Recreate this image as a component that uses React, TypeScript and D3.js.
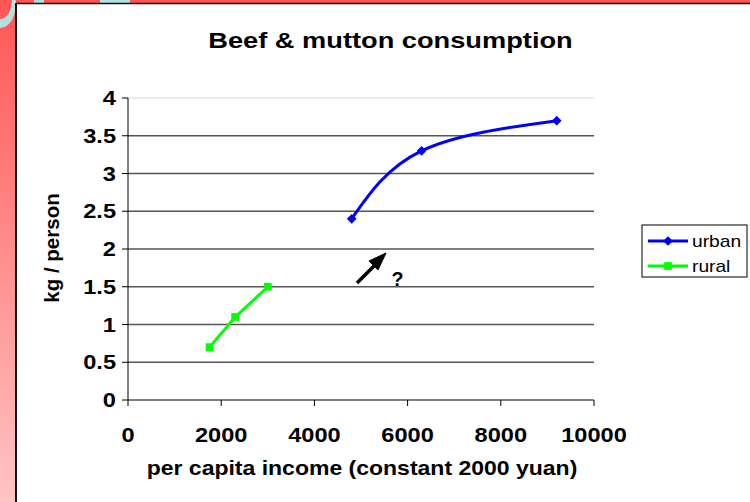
import React from "react";
import * as d3 from "d3";

// values
const urbanIncome = [4800, 6300, 9200];
const urbanKg = [2.4, 3.3, 3.7];
const ruralIncome = [1750, 2300, 3000];
const ruralKg = [0.7, 1.1, 1.5];
const xTicks = [0, 2000, 4000, 6000, 8000, 10000];
const yTicks = [0, 0.5, 1, 1.5, 2, 2.5, 3, 3.5, 4];
const seriesNames = ["urban", "rural"];

const W = 750;
const H = 502;
const FONT = "'Liberation Sans', Arial, sans-serif";

// the slide text is drawn a bit wide, so stretch it horizontally
function Label(props: { x: number; y: number; anchor?: string; size: number; sx?: number; bold?: boolean; children: React.ReactNode }) {
  return (
    <text transform={`translate(${props.x},${props.y}) scale(${props.sx ?? 1.18},1)`} textAnchor={props.anchor ?? "start"}
      fontFamily={FONT} fontWeight={props.bold ? "bold" : "normal"} fontSize={props.size}>
      {props.children}
    </text>
  );
}

export default function App() {
  const x = d3.scaleLinear().domain([0, 10000]).range([128, 594]);
  const y = d3.scaleLinear().domain([0, 4]).range([400, 98]);

  const urban = urbanIncome.map((v, i) => [v, urbanKg[i]] as [number, number]);
  const rural = ruralIncome.map((v, i) => [v, ruralKg[i]] as [number, number]);

  const smooth = d3.line<[number, number]>()
    .x(d => x(d[0]))
    .y(d => y(d[1]))
    .curve(d3.curveNatural);
  const straight = d3.line<[number, number]>()
    .x(d => x(d[0]))
    .y(d => y(d[1]));

  const diamond = d3.symbol().type(d3.symbolDiamond2).size(60)();
  const square = d3.symbol().type(d3.symbolSquare).size(60)();

  const legendColors = ["#0000ff", "#00ff00"];
  const legendMarks = [diamond, square];

  return (
    <div style={{ position: "fixed", left: 0, top: 0 }}>
      <svg width={W} height={H} style={{ display: "block" }}>
        <defs>
          <linearGradient id="strip" x1="0" y1="0" x2="0" y2="1">
            <stop offset="0%" stopColor="#ff5555" />
            <stop offset="100%" stopColor="#ffc4c4" />
          </linearGradient>
        </defs>
        {/* slide background */}
        <rect x={0} y={0} width={W} height={H} fill="white" />
        <rect x={0} y={0} width={17} height={H} fill="url(#strip)" />
        <rect x={0} y={0} width={W} height={3} fill="#ff5555" />
        <rect x={34} y={0} width={10} height={3} fill="#b4e0e0" />
        <rect x={100} y={0} width={30} height={3} fill="#b4e0e0" />
        <path d="M0,19 Q11,18 12,0 L16,0 Q16,26 0,28 Z" fill="#b4e0e0" />
        <line x1={16} y1={3} x2={16} y2={H} stroke="#111" strokeWidth={2} />
        <line x1={16} y1={3.5} x2={W} y2={3.5} stroke="#111" strokeWidth={1.5} />

        {/* title */}
        <Label x={390.5} y={47.5} anchor="middle" size={22.5} sx={1.21} bold>Beef &amp; mutton consumption</Label>

        {/* gridlines */}
        {yTicks.filter(t => t > 0).map(t => (
          <line key={t} x1={x(0)} x2={x(10000)} y1={y(t)} y2={y(t)}
            stroke={t === 4 ? "#d8d8d8" : "#555"} strokeWidth={t === 4 ? 1 : 1.3} />
        ))}

        {/* axes */}
        <line x1={x(0)} x2={x(0)} y1={y(4)} y2={y(0)} stroke="#000" />
        {yTicks.map(t => (
          <g key={t}>
            <line x1={x(0) - 6} x2={x(0)} y1={y(t)} y2={y(t)} stroke="#000" />
            <Label x={x(0) - 12} y={y(t) + 7} anchor="end" size={20} bold>{t}</Label>
          </g>
        ))}
        <line x1={x(0)} x2={x(10000)} y1={y(0)} y2={y(0)} stroke="#000" />
        {xTicks.map(t => (
          <g key={t}>
            <line x1={x(t)} x2={x(t)} y1={y(0)} y2={y(0) + 6} stroke="#000" />
            <Label x={x(t)} y={y(0) + 41.5} anchor="middle" size={20} bold>{t}</Label>
          </g>
        ))}
        <Label x={362} y={474.5} anchor="middle" size={19.5} bold>per capita income (constant 2000 yuan)</Label>
        <text transform="translate(59,248) rotate(-90)" textAnchor="middle" fontFamily={FONT}
          fontWeight="bold" fontSize={20.5}>kg / person</text>

        {/* series */}
        <path d={smooth(urban) ?? ""} fill="none" stroke="#0000ff" strokeWidth={3} />
        {urban.map((d, i) => (
          <path key={i} d={diamond ?? ""} transform={`translate(${x(d[0])},${y(d[1])})`} fill="#0000ff" />
        ))}
        <path d={straight(rural) ?? ""} fill="none" stroke="#00ff00" strokeWidth={3} />
        {rural.map((d, i) => (
          <path key={i} d={square ?? ""} transform={`translate(${x(d[0])},${y(d[1])})`} fill="#00ff00" />
        ))}

        {/* annotation arrow */}
        <line x1={357} y1={283} x2={378} y2={262} stroke="#000" strokeWidth={3.5} />
        <path d="M386,253 L369,261 L378,270 Z" fill="#000" stroke="#000" strokeWidth={1} />
        <text x={391.5} y={286} fontFamily={FONT} fontWeight="bold" fontSize={21} textLength={12}
          lengthAdjust="spacingAndGlyphs">?</text>

        {/* legend */}
        <rect x={642} y={225} width={105} height={52} fill="white" stroke="#000" />
        {seriesNames.map((n, i) => (
          <g key={n} transform={`translate(0,${241 + i * 25})`}>
            <line x1={648} x2={688} y1={0} y2={0} stroke={legendColors[i]} strokeWidth={3} />
            <path d={legendMarks[i] ?? ""} transform="translate(668,0)" fill={legendColors[i]} />
            <Label x={692} y={6} size={16} sx={1.2}>{n}</Label>
          </g>
        ))}
      </svg>
    </div>
  );
}
